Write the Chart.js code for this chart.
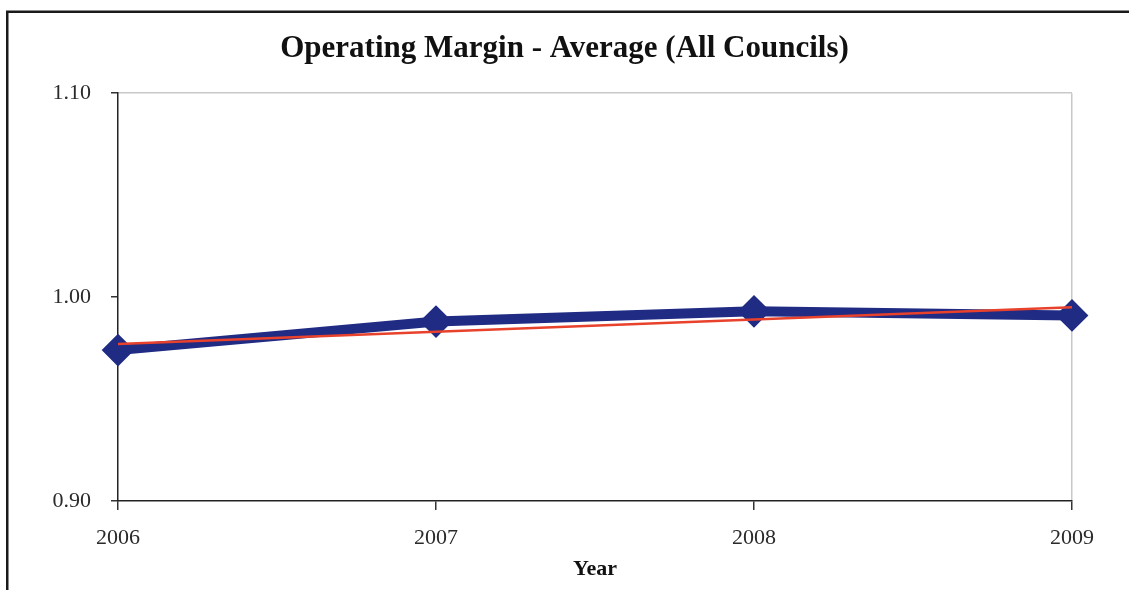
<!DOCTYPE html>
<html>
<head>
<meta charset="utf-8">
<title>Operating Margin - Average (All Councils)</title>
<script src="https://cdn.jsdelivr.net/npm/chart.js@4.4.1/dist/chart.umd.min.js"></script>
<style>
  html, body { margin: 0; padding: 0; background: #ffffff; overflow: hidden; }
  #wrap { position: relative; width: 1129px; height: 590px; }
  canvas { display: block; }
</style>
</head>
<body>
<div id="wrap"><canvas id="chart" width="1129" height="590"></canvas></div>
<script>
// Years on the category axis
const years = ['2006', '2007', '2008', '2009'];
// Average operating margin across all councils
const operatingMargin = [0.974, 0.988, 0.993, 0.991];
// Linear trend through the averages
const trendLine = [0.977, 0.983, 0.989, 0.995];
// Value axis range and step
const yMin = 0.90;
const yMax = 1.10;
const yStep = 0.10;

const SERIF = '"Liberation Serif", "DejaVu Serif", serif';
const TEXT = '#2a2a2a';
const FRAME = '#c8c8c8';

// Heavy frame around the whole chart object
const outerFrame = {
  id: 'outerFrame',
  beforeDraw(chart) {
    const ctx = chart.ctx;
    ctx.save();
    ctx.strokeStyle = '#1a1a1a';
    ctx.lineWidth = 2.5;
    ctx.strokeRect(7.25, 11.75, 1400, 800);
    ctx.restore();
  }
};

// Centre the title across the full canvas rather than the padded layout box
const fullWidthTitle = {
  id: 'fullWidthTitle',
  afterLayout(chart) {
    const t = chart.titleBlock;
    if (t) {
      t.left = 0;
      t.right = chart.width;
      t.width = chart.width;
    }
  }
};

new Chart(document.getElementById('chart'), {
  type: 'line',
  data: {
    labels: years,
    datasets: [
      {
        label: 'Operating Margin',
        data: operatingMargin,
        borderColor: '#202b84',
        backgroundColor: '#202b84',
        borderWidth: 10,
        pointStyle: 'rectRot',
        pointRadius: 15,
        pointBorderWidth: 2,
        pointBackgroundColor: '#202b84',
        pointBorderColor: '#202b84',
        tension: 0,
        fill: false,
        clip: false,
        order: 1
      },
      {
        label: 'Trend',
        data: trendLine,
        borderColor: '#e8412c',
        borderWidth: 2.5,
        pointRadius: 0,
        tension: 0,
        fill: false,
        clip: false,
        order: 0
      }
    ]
  },
  options: {
    responsive: false,
    devicePixelRatio: 1,
    animation: false,
    events: [],
    layout: { padding: { top: 0, left: 0, right: 57, bottom: 0 } },
    plugins: {
      legend: { display: false },
      tooltip: { enabled: false },
      title: {
        display: true,
        text: 'Operating Margin - Average (All Councils)',
        color: '#111111',
        font: { family: SERIF, size: 31, weight: 'bold', lineHeight: 1.2 },
        padding: { top: 30, bottom: 26 }
      }
    },
    scales: {
      x: {
        type: 'category',
        offset: false,
        grid: {
          drawOnChartArea: true,
          color: (c) => (c.index === years.length - 1 ? FRAME : 'rgba(0,0,0,0)'),
          tickColor: '#333333',
          tickLength: 9,
          lineWidth: 1.5
        },
        border: { display: true, color: '#222222', width: 1.5 },
        ticks: {
          color: TEXT,
          font: { family: SERIF, size: 22 },
          padding: 15,
          maxRotation: 0,
          autoSkip: false
        },
        title: {
          display: true,
          text: 'Year',
          color: '#111111',
          font: { family: SERIF, size: 22, weight: 'bold', lineHeight: 1.2 },
          padding: { top: 0, bottom: 7 }
        },
        afterFit(scale) { scale.height = 89; }
      },
      y: {
        min: yMin,
        max: yMax,
        grid: {
          drawOnChartArea: true,
          color: (c) => (c.tick && Math.abs(c.tick.value - yMax) < 1e-6 ? FRAME : 'rgba(0,0,0,0)'),
          tickColor: '#333333',
          tickLength: 7,
          lineWidth: 1.5
        },
        border: { display: true, color: '#222222', width: 1.5 },
        ticks: {
          stepSize: yStep,
          color: TEXT,
          font: { family: SERIF, size: 22 },
          padding: 20,
          callback: (v) => Number(v).toFixed(2)
        },
        afterFit(scale) { scale.width = 118; }
      }
    }
  },
  plugins: [outerFrame, fullWidthTitle]
});
</script>
</body>
</html>
